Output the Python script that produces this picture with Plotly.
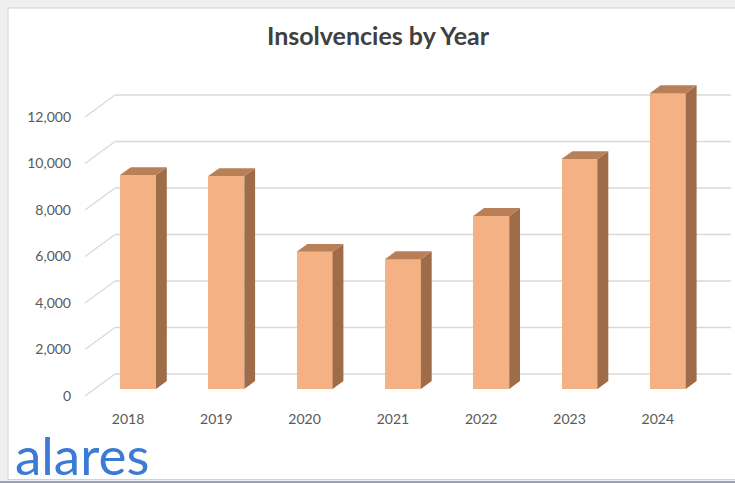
import plotly.graph_objects as go

# ---- data ----
years = ["2018", "2019", "2020", "2021", "2022", "2023", "2024"]
insolvencies = [9200, 9160, 5900, 5580, 7440, 9890, 12720]
y_ticks = [0, 2000, 4000, 6000, 8000, 10000, 12000]

# ---- layout geometry (pixels) ----
W, H = 735, 483
L, R, T, B = 80, 0, 50, 83
PW, PH = W - L - R, H - T - B
KX = 88.3          # px per category
KY = 0.02325       # px per unit
X0 = -(138 - L) / KX
X1 = X0 + PW / KX
Y0 = -((H - B) - 389) / KY
Y1 = Y0 + PH / KY

def xd(px):
    return X0 + (px - L) / KX

def dx(px):
    return px / KX

def dy(px):  # px upward
    return px / KY

BW = 36 / KX                 # front face width
DEPTH = (10.8, 7.9)          # bar depth offset (right, up)
BACK = (20.4, 15.0)          # bar plane -> back wall
FRONT = (-9.6, -7.0)         # bar plane -> front plane

FRONT_C = "#f4b183"
SIDE_C = "#9e6c49"
TOP_C = "#b98058"
GRID_C = "#d9d9d9"

fig = go.Figure()

def xp(px):
    return (px - L) / PW

def yp(py):
    return ((H - B) - py) / PH

shapes = [
    dict(type="rect", xref="paper", yref="paper", x0=xp(-5), x1=xp(W + 5), y0=yp(-5), y1=yp(H + 5),
         fillcolor="#efeff1", line=dict(width=0), layer="below"),
    dict(type="rect", xref="paper", yref="paper", x0=xp(8), x1=xp(W + 10), y0=yp(8), y1=yp(479.5),
         fillcolor="white", line=dict(width=1, color="#d2d2d2"), layer="below"),
    dict(type="rect", xref="paper", yref="paper", x0=xp(-5), x1=xp(W + 5), y0=yp(481), y1=yp(H + 5),
         fillcolor="#9ca1b8", line=dict(width=0), layer="below"),
]

# gridlines on back wall + left wall diagonals (below the bars)
for v in y_ticks:
    yb = v + dy(BACK[1])
    shapes.append(dict(type="line", xref="x", yref="y", x0=xd(115), x1=xd(731), y0=yb, y1=yb,
                       line=dict(color=GRID_C, width=1.3), layer="below"))
    shapes.append(dict(type="line", xref="x", yref="y", x0=xd(85), x1=xd(115), y0=v + dy(FRONT[1]), y1=yb,
                       line=dict(color=GRID_C, width=1.3), layer="below"))

# bar front faces
xs = list(range(len(years)))
fig.add_trace(go.Bar(x=xs, y=insolvencies, width=BW, marker=dict(color=FRONT_C, line=dict(width=0)),
                     showlegend=False))

# side and top faces
ddx, ddy = dx(DEPTH[0]), dy(DEPTH[1])
for i, v in zip(xs, insolvencies):
    xl, xr = i - BW / 2, i + BW / 2
    fig.add_trace(go.Scatter(x=[xr, xr + ddx, xr + ddx, xr, xr], y=[0, ddy, v + ddy, v, 0],
                             fill="toself", fillcolor=SIDE_C, mode="lines", line=dict(width=0, color=SIDE_C),
                             hoverinfo="skip", showlegend=False))
    fig.add_trace(go.Scatter(x=[xl, xr, xr + ddx, xl + ddx, xl], y=[v, v, v + ddy, v + ddy, v],
                             fill="toself", fillcolor=TOP_C, mode="lines", line=dict(width=0, color=TOP_C),
                             hoverinfo="skip", showlegend=False))

fig.update_layout(
    width=W, height=H,
    margin=dict(l=L, r=R, t=T, b=B),
    paper_bgcolor="white",
    plot_bgcolor="rgba(0,0,0,0)",
    bargap=0,
    title=dict(text="<b>Insolvencies by Year</b>", x=378 / W, xanchor="center", y=1 - 36 / H, yanchor="middle",
               yref="container", font=dict(family="Lato", size=25, color="#404040")),
    font=dict(family="Lato", size=14, color="#595959"),
    xaxis=dict(range=[X0, X1], tickvals=xs, ticktext=years, showgrid=False, zeroline=False,
               showline=False, ticks="", ticklabelshift=-10, ticklabelstandoff=9, fixedrange=True),
    yaxis=dict(range=[Y0, Y1], tickvals=y_ticks, tickformat=",", showgrid=False, zeroline=False,
               showline=False, ticks="", ticklabelshift=7, ticklabelstandoff=8, fixedrange=True),
    shapes=shapes,
    annotations=[dict(text="alares", xref="paper", yref="paper", x=xp(13), y=yp(455), xanchor="left",
                      yanchor="middle", showarrow=False,
                      font=dict(family="Lato", size=53, color="#3b7ad6"))],
)

fig.write_html("out.html", config={"displayModeBar": False},
               post_script="document.body.style.margin='0';document.body.style.overflow='hidden';")
